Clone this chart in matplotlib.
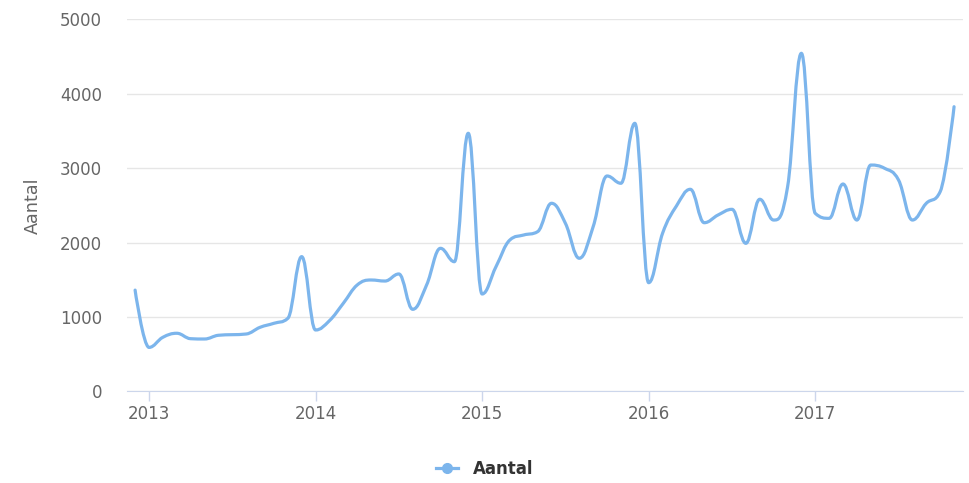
import numpy as np
import matplotlib
matplotlib.use("Agg")
import matplotlib.pyplot as plt
from matplotlib.path import Path
from matplotlib.patches import PathPatch
from matplotlib.lines import Line2D

# monthly counts, Dec 2012 .. Nov 2017
start_year, start_month = 2012, 12
aantal = [1360,
          590, 726, 780, 707, 703, 753, 761, 770, 860, 914, 980, 1810,
          824, 949, 1183, 1429, 1496, 1482, 1577, 1102, 1429, 1922, 1742, 3468,
          1308, 1675, 2034, 2101, 2146, 2527, 2258, 1788, 2213, 2894, 2796, 3602,
          1460, 2124, 2491, 2715, 2266, 2370, 2446, 1989, 2581, 2302, 2740, 4543,
          2392, 2325, 2786, 2302, 3041, 2997, 2840, 2302, 2527, 2683, 3825]
year_ticks = [2013, 2014, 2015, 2016, 2017]
series_name = "Aantal"

x = np.array([start_year + (start_month - 1 + i) / 12 for i in range(len(aantal))])
y = np.array(aantal, dtype=float)

# highcharts-style spline control points
def spline_path(xs, ys, smoothing=1.5):
    n = len(xs)
    denom = smoothing + 1
    lc = [(xs[i], ys[i]) for i in range(n)]
    rc = [(xs[i], ys[i]) for i in range(n)]
    for i in range(1, n - 1):
        px, py = xs[i], ys[i]
        lx, ly = xs[i-1], ys[i-1]
        nx, ny = xs[i+1], ys[i+1]
        lcx = (smoothing * px + lx) / denom
        lcy = (smoothing * py + ly) / denom
        rcx = (smoothing * px + nx) / denom
        rcy = (smoothing * py + ny) / denom
        corr = 0
        if rcx != lcx:
            corr = ((rcy - lcy) * (rcx - px)) / (rcx - lcx) + py - rcy
        lcy += corr
        rcy += corr
        if lcy > ly and lcy > py:
            lcy = max(ly, py); rcy = 2 * py - lcy
        elif lcy < ly and lcy < py:
            lcy = min(ly, py); rcy = 2 * py - lcy
        if rcy > ny and rcy > py:
            rcy = max(ny, py); lcy = 2 * py - rcy
        elif rcy < ny and rcy < py:
            rcy = min(ny, py); lcy = 2 * py - rcy
        lc[i] = (lcx, lcy)
        rc[i] = (rcx, rcy)
    verts = [(xs[0], ys[0])]
    codes = [Path.MOVETO]
    for i in range(1, n):
        verts += [rc[i-1], lc[i], (xs[i], ys[i])]
        codes += [Path.CURVE4] * 3
    return Path(verts, codes)

color = "#7cb5ec"
tick_col = "#666666"

fig = plt.figure(figsize=(9.69, 4.83), dpi=100)
ax = fig.add_axes([127/969, 1 - 391.3/483, 836/969, 372/483])

ax.add_patch(PathPatch(spline_path(x, y), facecolor="none", edgecolor=color,
                       lw=2.3, capstyle="round", joinstyle="round", zorder=3))

ax.set_xlim(2012.868, 2017.887)
ax.set_ylim(0, 5000)
ax.set_yticks(range(0, 5001, 1000))
ax.set_xticks(year_ticks)
ax.set_xticklabels([str(t) for t in year_ticks])

ax.grid(axis="y", color="#e6e6e6", lw=1)
ax.set_axisbelow(True)
for s in ["top", "right", "left"]:
    ax.spines[s].set_visible(False)
ax.spines["bottom"].set_color("#ccd6eb")
ax.spines["bottom"].set_zorder(2)

ax.tick_params(axis="y", length=0, pad=18, labelsize=12, labelcolor=tick_col)
ax.tick_params(axis="x", length=7.2, width=1, color="#ccd6eb", pad=3,
               labelsize=12, labelcolor=tick_col)

ax.set_ylabel(series_name, fontsize=12.7, color=tick_col)
ax.yaxis.set_label_coords(-0.1017, 0.5)

handle = Line2D([], [], color=color, lw=2.3, marker="o", markersize=7)
fig.legend([handle], [series_name], loc="center", bbox_to_anchor=(0.5, 1 - 469/483),
           frameon=False, prop={"weight": "bold", "size": 12},
           handlelength=1.3, handletextpad=0.9, labelcolor="#333333")

fig.savefig("out.png", dpi=100)
